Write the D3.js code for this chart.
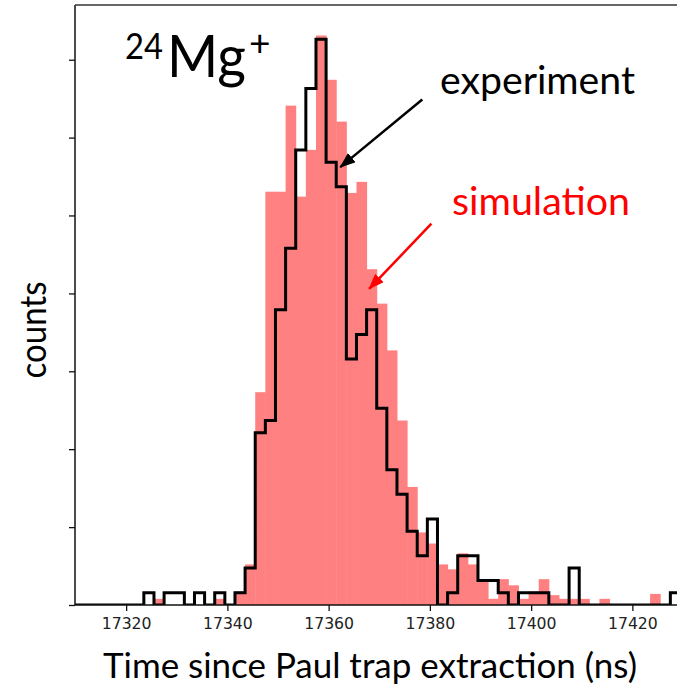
<!DOCTYPE html>
<html>
<head>
<meta charset="utf-8">
<script src="https://cdn.jsdelivr.net/npm/d3@7"></script>
<style>
  html, body { margin: 0; padding: 0; background: #fff; }
  svg { display: block; }
</style>
</head>
<body>
<div id="chart"></div>
<script>
// 2 ns bins, left edges start here
const binStart = 17309.5;
const binWidth = 2;

// experiment counts per bin (black step line)
const expCounts = [
  0, 0, 0, 0, 0, 0, 0,
  1, 0, 1, 1, 0, 1, 0, 1, 0, 1, 3,
  14, 15, 24, 29, 37, 42, 46, 36, 34, 20, 22, 24, 16, 11, 9, 6, 4, 7,
  0, 1, 4, 4, 2, 2, 1, 0, 1, 1, 1, 0, 0, 3,
  0, 0, 0, 0, 0, 0, 0, 0, 0, 1, 1
];

// simulation (scaled) per bin (pink bars)
const simCounts = [
  0, 0, 0, 0, 0, 0, 0,
  0, 0.5, 0, 0, 0, 0, 0, 0.5, 0, 1.1, 3.3,
  17.3, 33.6, 33.6, 40.6, 33.2, 37.0, 46.3, 42.7, 39.3, 33.5, 34.4, 27.3, 24.5, 20.7, 15.0, 9.6, 5.9, 5.0,
  3.3, 2.9, 4.2, 3.3, 2.1, 0.5, 2.1, 1.6, 0.5, 1.1, 2.1, 0.8, 0.5, 0.5,
  0.5, 0, 0.5, 0, 0, 0, 0, 0.9, 0, 0, 0
];

const xTicks = [17320, 17340, 17360, 17380, 17400, 17420];
// unlabelled y ticks (in counts)
const yTicks = [0, 6.33, 12.67, 19, 25.33, 31.67, 38, 44.33];

const W = 677, H = 685;
const plot = { left: 75, top: 5, right: 683, bottom: 605 };

const svg = d3.select('#chart').append('svg')
  .attr('width', W)
  .attr('height', H);

const x = d3.scaleLinear().domain([17309.9, 17430]).range([plot.left, plot.right]);
const y = d3.scaleLinear().domain([0, 48.78]).range([plot.bottom, plot.top]);

svg.append('defs').append('clipPath').attr('id', 'clip')
  .append('rect')
  .attr('x', plot.left).attr('y', plot.top)
  .attr('width', plot.right - plot.left).attr('height', plot.bottom - plot.top);

const bins = simCounts.map((v, i) => ({ x0: binStart + i * binWidth, x1: binStart + (i + 1) * binWidth, sim: v, exp: expCounts[i] }));

const g = svg.append('g').attr('clip-path', 'url(#clip)');

// simulation bars (red at alpha 0.5 on white -> solid pink so neighbours don't leave seams)
g.selectAll('rect.sim')
  .data(bins.filter(d => d.sim > 0))
  .enter()
  .append('rect')
  .attr('class', 'sim')
  .attr('x', d => x(d.x0))
  .attr('width', d => x(d.x1) - x(d.x0) + 0.5)
  .attr('y', d => y(d.sim))
  .attr('height', d => y(0) - y(d.sim))
  .attr('fill', '#ff8080');

// experiment step line
const stepPts = [{ t: bins[0].x0, v: 0 }]
  .concat(bins.map(d => ({ t: d.x0, v: d.exp })))
  .concat([{ t: bins[bins.length - 1].x1, v: bins[bins.length - 1].exp }, { t: bins[bins.length - 1].x1, v: 0 }]);

const line = d3.line().x(d => x(d.t)).y(d => y(d.v)).curve(d3.curveStepAfter);

g.append('path')
  .datum(stepPts)
  .attr('d', line)
  .attr('fill', 'none')
  .attr('stroke', '#000')
  .attr('stroke-width', 3)
  .attr('stroke-linejoin', 'miter');

// axes
const xAxis = svg.append('g')
  .attr('transform', `translate(0,${plot.bottom})`)
  .call(d3.axisBottom(x).tickValues(xTicks).tickFormat(d3.format('d')).tickSize(6).tickPadding(7));
xAxis.select('.domain').remove();
xAxis.selectAll('line').attr('stroke', '#111').attr('stroke-width', 1.3);
xAxis.selectAll('text')
  .attr('fill', '#222')
  .style('font-family', '"DejaVu Sans", sans-serif')
  .style('font-size', '15.7px');

const yAxis = svg.append('g')
  .attr('transform', `translate(${plot.left},0)`)
  .call(d3.axisLeft(y).tickValues(yTicks).tickFormat('').tickSize(6));
yAxis.select('.domain').remove();
yAxis.selectAll('line').attr('stroke', '#111').attr('stroke-width', 1.3);

// spines
svg.append('line').attr('x1', plot.left).attr('x2', plot.right).attr('y1', plot.bottom).attr('y2', plot.bottom)
  .attr('stroke', '#111').attr('stroke-width', 1.5);
svg.append('line').attr('x1', plot.left).attr('x2', plot.left).attr('y1', plot.top).attr('y2', plot.bottom)
  .attr('stroke', '#111').attr('stroke-width', 1.5);
svg.append('line').attr('x1', plot.left).attr('x2', plot.right).attr('y1', plot.top).attr('y2', plot.top)
  .attr('stroke', '#333').attr('stroke-width', 1.3);

// axis titles
const font = 'Lato, "Open Sans", sans-serif';
svg.append('text')
  .attr('x', 103).attr('y', 678)
  .attr('textLength', 534).attr('lengthAdjust', 'spacingAndGlyphs')
  .style('font-family', font).style('font-size', '35px').attr('fill', '#000')
  .text('Time since Paul trap extraction (ns)');

svg.append('text')
  .attr('transform', 'translate(46,330) rotate(-90)')
  .attr('text-anchor', 'middle')
  .attr('textLength', 97).attr('lengthAdjust', 'spacingAndGlyphs')
  .style('font-family', font).style('font-size', '37px').attr('fill', '#000')
  .text('counts');

// isotope label
svg.append('text').attr('x', 125).attr('y', 58.5)
  .attr('textLength', 38).attr('lengthAdjust', 'spacingAndGlyphs')
  .style('font-family', font).style('font-size', '37px').text('24');
svg.append('text').attr('x', 167).attr('y', 77)
  .attr('textLength', 79).attr('lengthAdjust', 'spacingAndGlyphs')
  .style('font-family', font).style('font-size', '58px').text('Mg');
svg.append('text').attr('x', 249).attr('y', 56)
  .style('font-family', font).style('font-size', '37px').text('+');

// annotations
svg.append('text').attr('x', 440).attr('y', 93.5)
  .attr('textLength', 195).attr('lengthAdjust', 'spacingAndGlyphs')
  .style('font-family', font).style('font-size', '39px').attr('fill', '#000')
  .text('experiment');
svg.append('text').attr('x', 452).attr('y', 215)
  .attr('textLength', 178).attr('lengthAdjust', 'spacingAndGlyphs')
  .style('font-family', font).style('font-size', '39px').attr('fill', '#ff0000')
  .text('simulation');

const defs = svg.select('defs');
[['arrBlack', '#000'], ['arrRed', '#ff0000']].forEach(([id, c]) => {
  defs.append('marker')
    .attr('id', id)
    .attr('markerUnits', 'userSpaceOnUse')
    .attr('viewBox', '0 0 16 12')
    .attr('refX', 15).attr('refY', 6)
    .attr('markerWidth', 16).attr('markerHeight', 12)
    .attr('orient', 'auto')
    .append('path').attr('d', 'M0,0 L16,6 L0,12 Z').attr('fill', c);
});

// arrows in data coordinates
const arrows = [
  { from: [17378.5, 41.1], to: [17362.3, 35.6], color: '#000', marker: 'arrBlack' },
  { from: [17380.3, 31.0], to: [17368.0, 25.7], color: '#ff0000', marker: 'arrRed' }
];
svg.selectAll('line.arrow')
  .data(arrows)
  .enter()
  .append('line')
  .attr('class', 'arrow')
  .attr('x1', d => x(d.from[0])).attr('y1', d => y(d.from[1]))
  .attr('x2', d => x(d.to[0])).attr('y2', d => y(d.to[1]))
  .attr('stroke', d => d.color)
  .attr('stroke-width', 2.5)
  .attr('marker-end', d => `url(#${d.marker})`);
</script>
</body>
</html>
